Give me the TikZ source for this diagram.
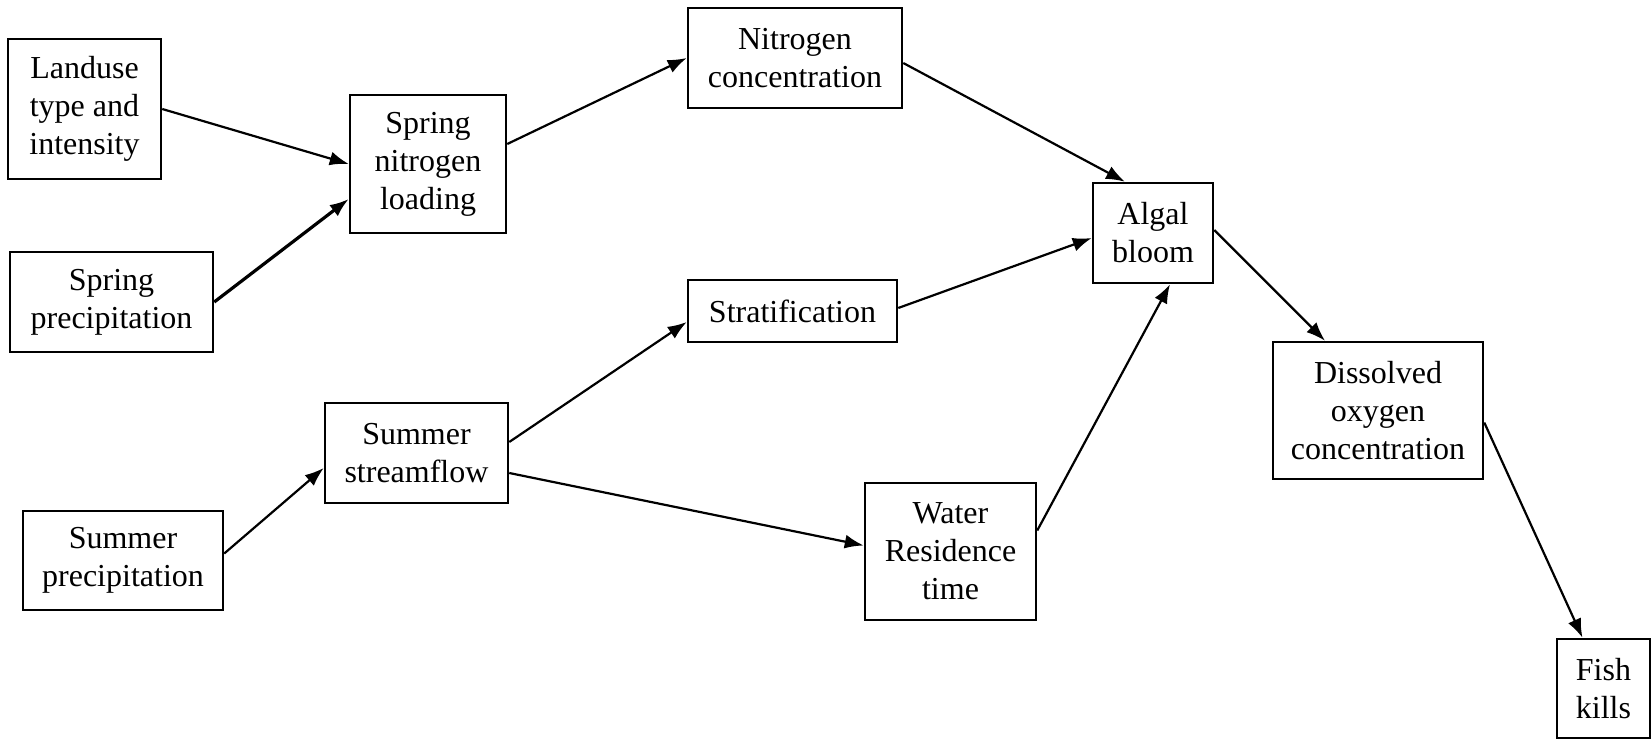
\documentclass[tikz,border=0pt]{standalone}
\usepackage{fontspec}
\setmainfont{Liberation Serif}
\usetikzlibrary{arrows.meta}
\tikzset{
  box/.style={draw, line width=2.5pt, inner sep=0pt, align=center,
    font=\fontsize{32}{38}\selectfont},
  conn/.style={line width=2.2pt, -{Latex[length=19pt,width=14pt]}},
  thickconn/.style={conn, line width=3.2pt}
}
\begin{document}
\begin{tikzpicture}[x=1pt,y=-1pt]
\useasboundingbox (0,0) rectangle (1652,741);
% nodes
\node[box, minimum width=153pt, minimum height=140pt] (landuse) at (84.5,109) {Landuse\\type and\\intensity};
\node[box, minimum width=203pt, minimum height=100pt] (sprp) at (111.5,302) {Spring\\precipitation};
\node[box, minimum width=200pt, minimum height=99pt] (sump) at (123,560.5) {Summer\\precipitation};
\node[box, minimum width=156pt, minimum height=138pt] (snl) at (428,164) {Spring\\nitrogen\\loading};
\node[box, minimum width=183pt, minimum height=100pt] (ssf) at (416.5,453) {Summer\\streamflow};
\node[box, minimum width=214pt, minimum height=100pt] (nc) at (795,58) {Nitrogen\\concentration};
\node[box, minimum width=209pt, minimum height=62pt] (strat) at (792.5,311) {Stratification};
\node[box, minimum width=171pt, minimum height=137pt] (wrt) at (950.5,551.5) {Water\\Residence\\time};
\node[box, minimum width=120pt, minimum height=100pt] (algal) at (1153,233) {Algal\\bloom};
\node[box, minimum width=210pt, minimum height=137pt] (do) at (1378,410.5) {Dissolved\\oxygen\\concentration};
\node[box, minimum width=93pt, minimum height=99pt] (fish) at (1603.5,688.5) {Fish\\kills};
% connectors
\draw[conn] (landuse.east) -- (snl.west);
\draw[thickconn] (sprp.east) -- ([yshift=-35pt]snl.west);
\draw[conn] ([yshift=20pt]snl.east) -- (nc.west);
\draw[conn] ([yshift=-5pt]nc.east) -- ([xshift=-28pt]algal.north);
\draw[conn] ([yshift=7pt]sump.east) -- ([yshift=-15pt]ssf.west);
\draw[conn] ([yshift=11pt]ssf.east) -- ([yshift=-11pt]strat.west);
\draw[conn] ([yshift=-20pt]ssf.east) -- ([yshift=6pt]wrt.west);
\draw[conn] ([yshift=3pt]strat.east) -- ([yshift=-5pt]algal.west);
\draw[conn] ([yshift=21pt]wrt.east) -- ([xshift=17pt]algal.south);
\draw[conn] ([yshift=3pt]algal.east) -- ([xshift=-53pt]do.north);
\draw[conn] ([yshift=-12pt]do.east) -- ([xshift=-21pt]fish.north);
\end{tikzpicture}
\end{document}
